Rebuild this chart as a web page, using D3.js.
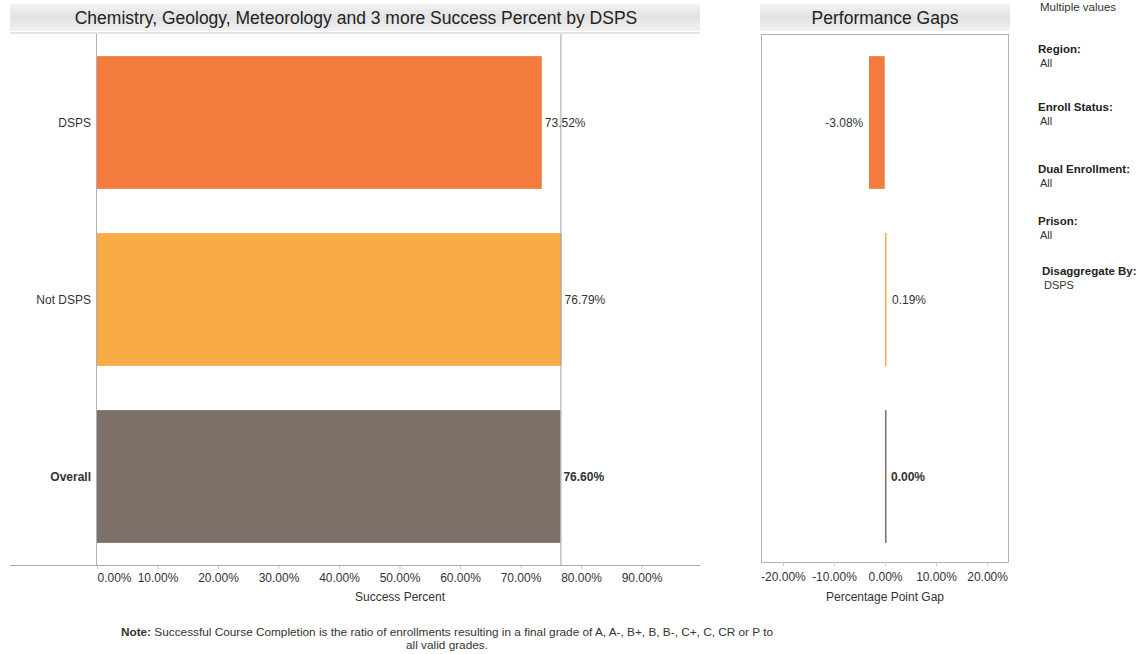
<!DOCTYPE html>
<html>
<head>
<meta charset="utf-8">
<script src="https://cdn.jsdelivr.net/npm/d3@7"></script>
<style>
  body { margin: 0; background: #fff; font-family: "Liberation Sans", Arial, sans-serif; }
  svg text { fill: #333; }
</style>
</head>
<body>
<div id="chart"></div>
<script>
// data
var categories = ["DSPS", "Not DSPS", "Overall"];
var successPct = [73.52, 76.79, 76.60];
var gapPct = [-3.08, 0.19, 0.00];
var successTicks = [0, 10, 20, 30, 40, 50, 60, 70, 80, 90];
var gapTicks = [-20, -10, 0, 10, 20];
var filterLabels = ["Region:", "Enroll Status:", "Dual Enrollment:", "Prison:", "Disaggregate By:"];
var filterValues = ["All", "All", "All", "All", "DSPS"];

var W = 1143, H = 654;
var barColor = d3.scaleOrdinal().domain(categories).range(["#f27b3d", "#f9ab45", "#7c7068"]);
var fmt = function (v) { return v.toFixed(2) + "%"; };

var svg = d3.select("#chart").append("svg")
    .attr("width", W).attr("height", H);

// title band gradient
var defs = svg.append("defs");
var grad = defs.append("linearGradient").attr("id", "band").attr("x1", 0).attr("y1", 0).attr("x2", 0).attr("y2", 1);
grad.append("stop").attr("offset", "0%").attr("stop-color", "#f3f3f3");
grad.append("stop").attr("offset", "50%").attr("stop-color", "#e2e2e2");
grad.append("stop").attr("offset", "100%").attr("stop-color", "#f1f1f1");

var plotTop = 34, plotBottom = 565;
var y = d3.scaleBand().domain(categories).range([plotTop, plotBottom]).paddingInner(0.25).paddingOuter(0.125);

// ---------- left chart ----------
var x = d3.scaleLinear().domain([0, 100]).range([97, 702]);

svg.append("rect").attr("x", 10).attr("y", 4).attr("width", 690).attr("height", 27).attr("fill", "url(#band)");
svg.append("text").attr("x", 356).attr("y", 24).attr("text-anchor", "middle")
    .style("font-size", "17.5px").style("fill", "#222")
    .text("Chemistry, Geology, Meteorology and 3 more Success Percent by DSPS");
svg.append("line").attr("x1", 10).attr("x2", 700).attr("y1", 33).attr("y2", 33).attr("stroke", "#c8c8c8");

svg.append("g").selectAll("rect")
    .data(categories)
    .enter()
    .append("rect")
    .attr("x", x(0))
    .attr("y", function (d) { return y(d); })
    .attr("width", function (d, i) { return x(successPct[i]) - x(0); })
    .attr("height", y.bandwidth())
    .attr("fill", function (d) { return barColor(d); });

// pane border + reference line at overall
svg.append("line").attr("x1", 96.5).attr("x2", 96.5).attr("y1", plotTop).attr("y2", plotBottom).attr("stroke", "#a9b2c2");
svg.append("line").attr("x1", x(successPct[2]) + 0.5).attr("x2", x(successPct[2]) + 0.5)
    .attr("y1", plotTop).attr("y2", plotBottom).attr("stroke", "#9aa3b3");

svg.append("g").selectAll("text")
    .data(categories)
    .enter()
    .append("text")
    .attr("x", 91)
    .attr("y", function (d) { return y(d) + y.bandwidth() / 2 + 4; })
    .attr("text-anchor", "end")
    .style("font-size", "12px")
    .style("font-weight", function (d) { return d == "Overall" ? "bold" : "normal"; })
    .text(function (d) { return d; });

svg.append("g").selectAll("text")
    .data(categories)
    .enter()
    .append("text")
    .attr("x", function (d, i) { return x(successPct[i]) + 3; })
    .attr("y", function (d) { return y(d) + y.bandwidth() / 2 + 4; })
    .style("font-size", "12px")
    .style("font-weight", function (d) { return d == "Overall" ? "bold" : "normal"; })
    .text(function (d, i) { return fmt(successPct[i]); });

var xAxis = svg.append("g")
    .attr("transform", "translate(0," + plotBottom + ")")
    .call(d3.axisBottom(x).tickValues(successTicks).tickSize(4).tickPadding(4)
        .tickFormat(function (d) { return d.toFixed(2) + "%"; }));
xAxis.select(".domain").remove();
xAxis.selectAll(".tick line").attr("stroke", "#ccc");
xAxis.selectAll(".tick text").style("font-size", "12px").style("fill", "#333").style("font-family", "Liberation Sans, Arial");
xAxis.selectAll(".tick text").filter(function (d) { return d == 0; }).attr("text-anchor", "start");
svg.append("line").attr("x1", 10).attr("x2", 700).attr("y1", plotBottom + 0.5).attr("y2", plotBottom + 0.5).attr("stroke", "#aaa");
svg.append("text").attr("x", 400).attr("y", 601).attr("text-anchor", "middle")
    .style("font-size", "12px").text("Success Percent");

// ---------- right chart ----------
var gx = d3.scaleLinear().domain([-24.3, 24.3]).range([761, 1009]);

svg.append("rect").attr("x", 760).attr("y", 4).attr("width", 250).attr("height", 27).attr("fill", "url(#band)");
svg.append("text").attr("x", 885).attr("y", 24).attr("text-anchor", "middle")
    .style("font-size", "17.5px").style("fill", "#222").text("Performance Gaps");
svg.append("rect").attr("x", 761.5).attr("y", plotTop + 0.5).attr("width", 247).attr("height", 528)
    .attr("fill", "none").attr("stroke", "#b4b4b4");

svg.append("g").selectAll("rect")
    .data(categories)
    .enter()
    .append("rect")
    .attr("x", function (d, i) { return Math.round(Math.min(gx(0), gx(gapPct[i]))); })
    .attr("y", function (d) { return y(d); })
    .attr("width", function (d, i) { return Math.max(1.5, Math.abs(gx(gapPct[i]) - gx(0))); })
    .attr("height", y.bandwidth())
    .attr("fill", function (d) { return barColor(d); });

svg.append("g").selectAll("text")
    .data(categories)
    .enter()
    .append("text")
    .attr("x", function (d, i) { return gapPct[i] < 0 ? gx(gapPct[i]) - 6 : gx(gapPct[i]) + 6; })
    .attr("y", function (d) { return y(d) + y.bandwidth() / 2 + 4; })
    .attr("text-anchor", function (d, i) { return gapPct[i] < 0 ? "end" : "start"; })
    .style("font-size", "12px")
    .style("font-weight", function (d) { return d == "Overall" ? "bold" : "normal"; })
    .text(function (d, i) { return fmt(gapPct[i]); });

var gAxis = svg.append("g")
    .attr("transform", "translate(0," + (plotTop + 528) + ")")
    .call(d3.axisBottom(gx).tickValues(gapTicks).tickSize(4).tickPadding(6)
        .tickFormat(function (d) { return d.toFixed(2) + "%"; }));
gAxis.select(".domain").remove();
gAxis.selectAll(".tick line").attr("stroke", "#ccc");
gAxis.selectAll(".tick text").style("font-size", "12px").style("fill", "#333").style("font-family", "Liberation Sans, Arial");
svg.append("text").attr("x", 885).attr("y", 601).attr("text-anchor", "middle")
    .style("font-size", "12px").text("Percentage Point Gap");

// ---------- filters ----------
svg.append("text").attr("x", 1040).attr("y", 11).style("font-size", "11.5px").text("Multiple values");
var filterY = [53, 111, 173, 225, 275];
var filterX = [1038, 1038, 1038, 1038, 1042];
var fg = svg.append("g").selectAll("g")
    .data(filterLabels)
    .enter()
    .append("g");
fg.append("text")
    .attr("x", function (d, i) { return filterX[i]; })
    .attr("y", function (d, i) { return filterY[i]; })
    .style("font-size", "11.5px").style("font-weight", "bold").style("fill", "#222")
    .text(function (d) { return d; });
fg.append("text")
    .attr("x", function (d, i) { return filterX[i] + 2; })
    .attr("y", function (d, i) { return filterY[i] + 14; })
    .style("font-size", "11px")
    .text(function (d, i) { return filterValues[i]; });

// ---------- note ----------
var note = svg.append("text").attr("x", 447).attr("y", 636).attr("text-anchor", "middle").style("font-size", "11.8px");
note.append("tspan").style("font-weight", "bold").text("Note:");
note.append("tspan").text(" Successful Course Completion is the ratio of enrollments resulting in a final grade of A, A-, B+, B, B-, C+, C, CR or P to");
svg.append("text").attr("x", 447).attr("y", 649).attr("text-anchor", "middle").style("font-size", "11.8px")
    .text("all valid grades.");
</script>
</body>
</html>
